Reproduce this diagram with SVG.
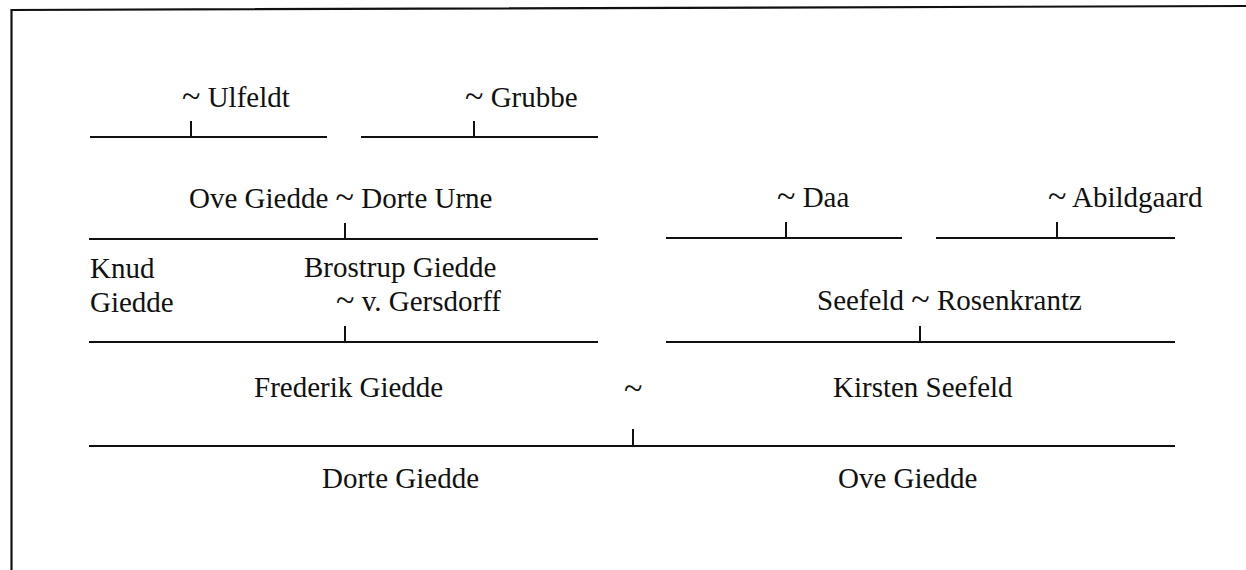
<svg xmlns="http://www.w3.org/2000/svg" width="1246" height="570" viewBox="0 0 1246 570">
  <style>
    .t { font-family: "Liberation Serif", "Times New Roman", serif; font-size: 29px; fill: #111; }
    .sim { font-size: 34px; }
    .ln { stroke: #111; stroke-width: 2; fill: none; stroke-linecap: butt; }
    .fr { stroke: #111; stroke-width: 2.2; fill: none; }
  </style>
  <rect x="0" y="0" width="1246" height="570" fill="#ffffff"/>
  <g id="frame">
    <polyline class="fr" points="11.5,570 11.5,10 1246,6"/>
  </g>
  <g id="connectors">
    <path class="ln" d="M90 137H327 M191 121V137"/>
    <path class="ln" d="M361 137H598 M474 121V137"/>
    <path class="ln" d="M89 239H598 M345 223V239"/>
    <path class="ln" d="M666 238H902 M786 222V238"/>
    <path class="ln" d="M936 238H1175 M1057 222V238"/>
    <path class="ln" d="M89 342H598 M345 326V342"/>
    <path class="ln" d="M666 342H1175 M920 326V342"/>
    <path class="ln" d="M89 446H1175 M633 429V446"/>
  </g>
  <g id="ulfeldt"><text class="t" x="182" y="107"><tspan class="sim">~</tspan> Ulfeldt</text></g>
  <g id="grubbe"><text class="t" x="465" y="107"><tspan class="sim">~</tspan> Grubbe</text></g>
  <g id="ove-dorte"><text class="t" x="189" y="208">Ove Giedde <tspan class="sim">~</tspan> Dorte Urne</text></g>
  <g id="daa"><text class="t" x="777" y="207"><tspan class="sim">~</tspan> Daa</text></g>
  <g id="abildgaard"><text class="t" x="1048" y="207"><tspan class="sim">~</tspan> Abildgaard</text></g>
  <g id="knud"><text class="t" x="90" y="278">Knud</text><text class="t" x="90" y="312">Giedde</text></g>
  <g id="brostrup"><text class="t" x="304" y="277">Brostrup Giedde</text><text class="t" x="336" y="311"><tspan class="sim">~</tspan> v. Gersdorff</text></g>
  <g id="seefeld-rosenkrantz"><text class="t" x="817" y="310">Seefeld <tspan class="sim">~</tspan> Rosenkrantz</text></g>
  <g id="frederik"><text class="t" x="254" y="397">Frederik Giedde</text></g>
  <g id="marriage"><text class="t" x="624" y="399"><tspan class="sim">~</tspan></text></g>
  <g id="kirsten"><text class="t" x="833" y="397">Kirsten Seefeld</text></g>
  <g id="dorte"><text class="t" x="322" y="488">Dorte Giedde</text></g>
  <g id="ove"><text class="t" x="838" y="488">Ove Giedde</text></g>
</svg>
